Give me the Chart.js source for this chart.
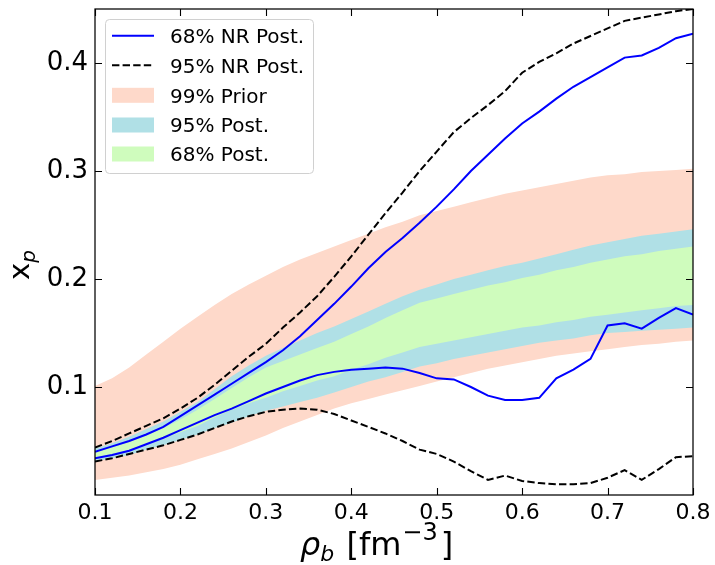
<!DOCTYPE html>
<html><head><meta charset="utf-8">
<script src="https://cdn.jsdelivr.net/npm/chart.js@4.4.1/dist/chart.umd.min.js"></script>
<style>html,body{margin:0;padding:0;background:#fff;}#wrap{width:715px;height:565px;}</style>
</head><body><div id="wrap"><canvas id="c" width="715" height="565"></canvas></div>
<script>
// density grid [fm^-3]
const rho = [0.10,0.12,0.14,0.16,0.18,0.20,0.22,0.24,0.26,0.28,0.30,0.32,0.34,0.36,0.38,0.40,0.42,0.44,0.46,0.48,0.50,0.52,0.54,0.56,0.58,0.60,0.62,0.64,0.66,0.68,0.70,0.72,0.74,0.76,0.78,0.80];
// 99% prior band
const priorUpper = [0.101,0.108,0.118,0.130,0.142,0.154,0.165,0.176,0.186,0.195,0.203,0.211,0.218,0.224,0.230,0.236,0.242,0.248,0.253,0.259,0.263,0.267,0.271,0.275,0.279,0.282,0.285,0.288,0.291,0.294,0.296,0.297,0.299,0.300,0.301,0.302];
const priorLower = [0.014,0.016,0.018,0.021,0.024,0.028,0.033,0.038,0.043,0.049,0.055,0.062,0.068,0.074,0.080,0.085,0.089,0.093,0.097,0.101,0.105,0.109,0.113,0.117,0.120,0.123,0.126,0.129,0.131,0.133,0.135,0.137,0.139,0.140,0.142,0.143];
// 95% posterior band
const post95Upper = [0.043,0.048,0.054,0.061,0.068,0.077,0.086,0.098,0.110,0.120,0.129,0.136,0.143,0.150,0.156,0.163,0.170,0.177,0.184,0.190,0.195,0.200,0.204,0.208,0.212,0.215,0.219,0.223,0.227,0.231,0.234,0.237,0.240,0.242,0.244,0.246];
const post95Lower = [0.031,0.034,0.037,0.042,0.046,0.051,0.056,0.062,0.067,0.073,0.078,0.082,0.086,0.090,0.095,0.100,0.105,0.109,0.114,0.119,0.122,0.126,0.129,0.132,0.135,0.138,0.141,0.143,0.145,0.148,0.150,0.151,0.152,0.153,0.154,0.155];
// 68% posterior band
const post68Upper = [0.040,0.044,0.049,0.055,0.062,0.070,0.079,0.089,0.099,0.109,0.118,0.124,0.130,0.136,0.142,0.149,0.156,0.164,0.171,0.178,0.182,0.186,0.190,0.194,0.197,0.201,0.204,0.208,0.211,0.215,0.218,0.221,0.223,0.226,0.228,0.230];
const post68Lower = [0.035,0.038,0.042,0.047,0.052,0.058,0.064,0.072,0.079,0.085,0.090,0.096,0.101,0.106,0.110,0.116,0.121,0.127,0.132,0.137,0.140,0.143,0.146,0.149,0.152,0.155,0.157,0.160,0.162,0.165,0.167,0.169,0.171,0.173,0.175,0.176];
// NR posterior contours
const nr68Upper = [0.040,0.045,0.050,0.056,0.063,0.073,0.083,0.093,0.103,0.113,0.123,0.134,0.147,0.162,0.177,0.193,0.210,0.225,0.238,0.252,0.267,0.283,0.300,0.315,0.330,0.344,0.355,0.367,0.378,0.387,0.396,0.405,0.407,0.414,0.423,0.427];
const nr68Lower = [0.034,0.037,0.041,0.047,0.053,0.060,0.067,0.074,0.080,0.087,0.094,0.100,0.106,0.111,0.114,0.116,0.117,0.118,0.117,0.113,0.108,0.107,0.100,0.092,0.088,0.088,0.090,0.108,0.116,0.126,0.157,0.159,0.154,0.164,0.173,0.167];
const nr95Upper = [0.044,0.050,0.057,0.064,0.071,0.080,0.090,0.102,0.115,0.128,0.140,0.155,0.169,0.184,0.202,0.221,0.241,0.261,0.280,0.300,0.318,0.336,0.349,0.361,0.374,0.391,0.401,0.409,0.418,0.425,0.432,0.439,0.442,0.445,0.448,0.450];
const nr95Lower = [0.031,0.034,0.038,0.042,0.046,0.051,0.056,0.062,0.068,0.073,0.077,0.079,0.080,0.079,0.075,0.069,0.063,0.057,0.050,0.042,0.038,0.031,0.022,0.014,0.018,0.013,0.011,0.010,0.010,0.011,0.016,0.023,0.014,0.024,0.035,0.036];

const xTicks = [0.1,0.2,0.3,0.4,0.5,0.6,0.7,0.8];
const yTicks = [0.1,0.2,0.3,0.4];
const legendLabels = ['68% NR Post.','95% NR Post.','99% Prior','95% Post.','68% Post.'];

const C_PRIOR = '#fed9ca', C_P95 = '#b0e0e6', C_P68 = '#cffcbd', C_NR = '#0000ff', C_NR95 = '#000000';
const FONT = 'DejaVu Sans';

const pts = arr => rho.map((x,i)=>({x:x, y:arr[i]}));
const band = (arr, color, fill, order) => ({data: pts(arr), borderWidth: 0, borderColor: 'rgba(0,0,0,0)', backgroundColor: color, fill: fill, pointRadius: 0, order: order, tension: 0});
const line = (arr, color, dash, order) => ({data: pts(arr), borderWidth: 2, borderColor: color, borderDash: dash, fill: false, pointRadius: 0, order: order, tension: 0});

function drawParts(ctx, parts, x, y) {
  let cx = x;
  for (const p of parts) {
    ctx.font = p.font;
    ctx.fillText(p.t, cx + (p.dx || 0), y + (p.dy || 0));
    cx += ctx.measureText(p.t).width + (p.dx || 0);
  }
  return cx - x;
}
function measureParts(ctx, parts) {
  let w = 0;
  for (const p of parts) { ctx.font = p.font; w += ctx.measureText(p.t).width + (p.dx || 0); }
  return w;
}

const decor = {
  id: 'decor',
  afterDraw(chart) {
    const ctx = chart.ctx, a = chart.chartArea, xs = chart.scales.x, ys = chart.scales.y;
    ctx.save();
    ctx.strokeStyle = '#000'; ctx.lineWidth = 1.25;
    ctx.strokeRect(a.left, a.top, a.right - a.left, a.bottom - a.top);
    const TL = 7;
    ctx.lineWidth = 1.1;
    ctx.beginPath();
    for (const v of xTicks) {
      const px = Math.round(xs.getPixelForValue(v)) + 0.5;
      ctx.moveTo(px, a.bottom); ctx.lineTo(px, a.bottom - TL);
      ctx.moveTo(px, a.top); ctx.lineTo(px, a.top + TL);
    }
    for (const v of yTicks) {
      const py = Math.round(ys.getPixelForValue(v)) + 0.5;
      ctx.moveTo(a.left, py); ctx.lineTo(a.left + TL, py);
      ctx.moveTo(a.right, py); ctx.lineTo(a.right - TL, py);
    }
    ctx.stroke();

    // axis titles
    ctx.fillStyle = '#000'; ctx.textBaseline = 'alphabetic'; ctx.textAlign = 'left';
    const xl = [
      {t:'\u03C1', font:'italic 32px "' + FONT + '"'},
      {t:'b', font:'italic 22px "' + FONT + '"', dy: 6},
      {t:' [fm', font:'32px "' + FONT + '"', dx: 2},
      {t:'\u22123', font:'24px "' + FONT + '"', dy: -15, dx: 1},
      {t:']', font:'32px "' + FONT + '"', dx: 3}
    ];
    drawParts(ctx, xl, 300, 555);
    const yl = [
      {t:'x', font:'29px "' + FONT + '"'},
      {t:'p', font:'italic 20px "' + FONT + '"', dy: 6}
    ];
    const yw = measureParts(ctx, yl);
    ctx.save();
    ctx.translate(29, 265);
    ctx.rotate(-Math.PI / 2);
    drawParts(ctx, yl, -yw / 2, 0);
    ctx.restore();

    // legend
    const L = 105.5, T = 19.5, W = 208, H = 154;
    ctx.beginPath();
    ctx.roundRect(L, T, W, H, 4);
    ctx.fillStyle = 'rgba(255,255,255,0.8)'; ctx.fill();
    ctx.strokeStyle = '#d0d0d0'; ctx.lineWidth = 1; ctx.stroke();
    const rows = [35.7, 65.3, 95.3, 125, 154];
    const hx0 = 112, hx1 = 154;
    ctx.lineWidth = 2;
    ctx.strokeStyle = C_NR; ctx.setLineDash([]);
    ctx.beginPath(); ctx.moveTo(hx0, rows[0]); ctx.lineTo(hx1, rows[0]); ctx.stroke();
    ctx.strokeStyle = C_NR95; ctx.setLineDash([7.4, 3.2]);
    ctx.beginPath(); ctx.moveTo(hx0, rows[1]); ctx.lineTo(hx1, rows[1]); ctx.stroke();
    ctx.setLineDash([]);
    [C_PRIOR, C_P95, C_P68].forEach((c, k) => {
      ctx.fillStyle = c; ctx.fillRect(hx0, rows[k+2] - 7.5, hx1 - hx0, 15);
    });
    ctx.fillStyle = '#000'; ctx.font = '20px "' + FONT + '"';
    legendLabels.forEach((t, k) => ctx.fillText(t, 170, rows[k] + 7.3));
    ctx.restore();
  }
};

new Chart(document.getElementById('c'), {
  type: 'line',
  data: {
    datasets: [
      band(priorUpper, C_PRIOR, '+1', 10),
      band(priorLower, C_PRIOR, false, 10),
      band(post95Upper, C_P95, '+1', 9),
      band(post95Lower, C_P95, false, 9),
      band(post68Upper, C_P68, '+1', 8),
      band(post68Lower, C_P68, false, 8),
      line(nr95Upper, C_NR95, [7.4, 3.2], 2),
      line(nr95Lower, C_NR95, [7.4, 3.2], 2),
      line(nr68Upper, C_NR, [], 1),
      line(nr68Lower, C_NR, [], 1)
    ]
  },
  options: {
    responsive: false, animation: false, devicePixelRatio: 1,
    layout: {padding: {left: 0, right: 22, top: 9, bottom: 0}},
    plugins: {legend: {display: false}, tooltip: {enabled: false}},
    scales: {
      x: {
        type: 'linear', min: 0.1, max: 0.8,
        afterBuildTicks: s => { s.ticks = xTicks.map(v => ({value: v})); },
        afterFit: s => { s.height = 70; s.paddingLeft = 0; s.paddingRight = 0; s.paddingTop = 0; s.paddingBottom = 0; },
        grid: {display: false, drawTicks: false, tickLength: 0},
        border: {display: false},
        ticks: {font: {family: FONT, size: 22}, color: '#000', padding: 5, maxRotation: 0, autoSkip: false,
                callback: v => Number(v).toFixed(1)}
      },
      y: {
        type: 'linear', min: 0, max: 0.45,
        afterBuildTicks: s => { s.ticks = yTicks.map(v => ({value: v})); },
        afterFit: s => { s.width = 95; s.paddingLeft = 0; s.paddingRight = 0; s.paddingTop = 0; s.paddingBottom = 0; },
        grid: {display: false, drawTicks: false, tickLength: 0},
        border: {display: false},
        ticks: {font: {family: FONT, size: 26}, color: '#000', padding: 7, autoSkip: false,
                callback: v => Number(v).toFixed(1)}
      }
    }
  },
  plugins: [decor]
});
</script></body></html>
